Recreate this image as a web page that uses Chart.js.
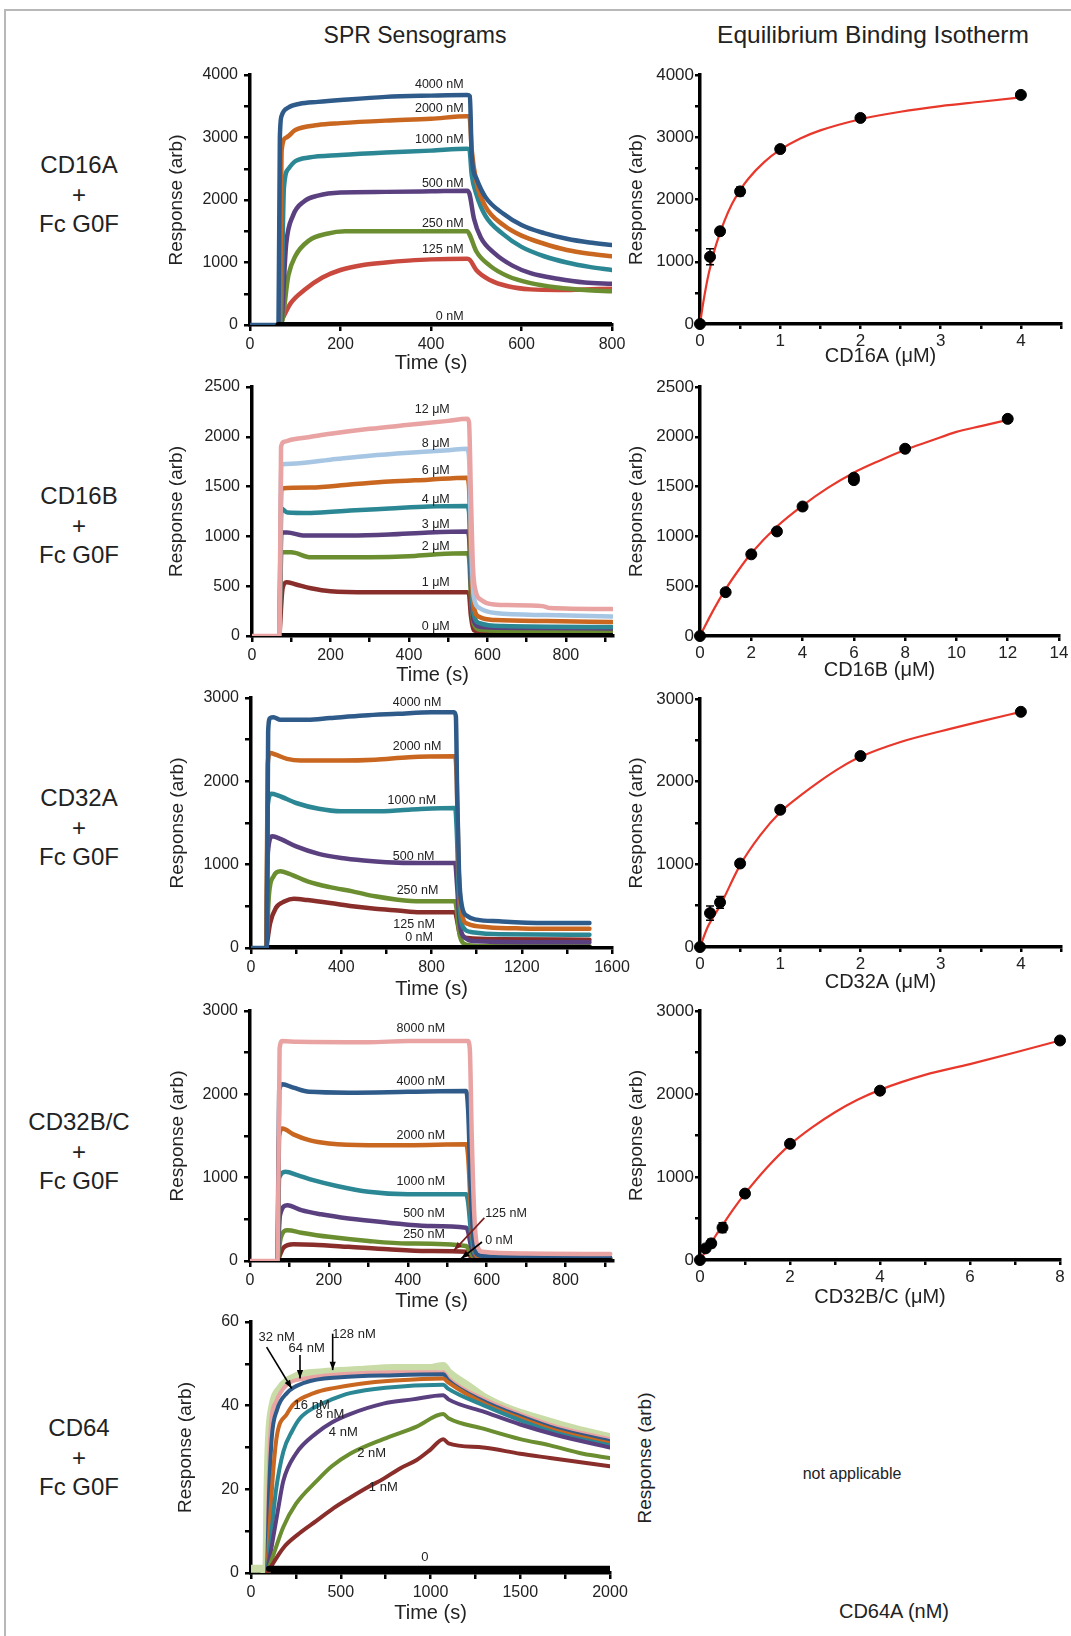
<!DOCTYPE html>
<html>
<head>
<meta charset="utf-8">
<title>SPR sensograms and binding isotherms</title>
<script src="https://cdn.jsdelivr.net/npm/chart.js@4.4.1/dist/chart.umd.min.js"></script>
<style>
  body { margin: 0; background: #fff; font-family: "Liberation Sans", Arial, sans-serif; color: #222; }
  #page { position: relative; width: 1071px; height: 1636px; overflow: hidden; }
  .frame { position: absolute; left: 4px; top: 9px; width: 1080px; height: 1640px;
           border-top: 2px solid #b8b8b8; border-left: 2px solid #b8b8b8; }
  .txt { position: absolute; transform: translate(-50%, -50%); white-space: nowrap; }
  .row { position: absolute; left: 0; width: 158px; text-align: center; font-size: 24px; line-height: 29.5px; }
  canvas { position: absolute; }
</style>
</head>
<body>
<div id="page">
  <div class="frame"></div>
  <div class="txt" style="left:415px;top:35px;font-size:23px">SPR Sensograms</div>
  <div class="txt" style="left:873px;top:35px;font-size:24.5px">Equilibrium Binding Isotherm</div>

  <div class="row" style="top:150px">CD16A<br>+<br>Fc G0F</div>
  <div class="row" style="top:481px">CD16B<br>+<br>Fc G0F</div>
  <div class="row" style="top:783px">CD32A<br>+<br>Fc G0F</div>
  <div class="row" style="top:1107px">CD32B/C<br>+<br>Fc G0F</div>
  <div class="row" style="top:1413px">CD64<br>+<br>Fc G0F</div>

  <div class="txt" style="left:645px;top:1458px;font-size:19px;transform:translate(-50%,-50%) rotate(-90deg)">Response (arb)</div>
  <div class="txt" style="left:852px;top:1474px;font-size:16px">not applicable</div>
  <div class="txt" style="left:894px;top:1611px;font-size:20px">CD64A (nM)</div>
</div>

<script>
/////////////////////////////
// Data | sensograms  [time (s), response]
/////////////////////////////

// CD16A
const cd16aConc = ['4000 nM', '2000 nM', '1000 nM', '500 nM', '250 nM', '125 nM', '0 nM'];
const cd16a4000 = [[0,0],[60,0],[63,0],[66,3000],[70,3350],[85,3480],[110,3540],[150,3570],[200,3600],[300,3650],[400,3670],[480,3680],[486,3660],[490,2700],[500,2350],[520,2050],[560,1780],[600,1600],[650,1470],[700,1380],[750,1320],[800,1280]];
const cd16a2000 = [[62,0],[66,0],[70,2800],[80,3000],[100,3120],[150,3200],[200,3230],[300,3270],[400,3300],[480,3340],[485,3340],[490,2800],[500,2300],[520,1900],[560,1600],[600,1430],[650,1300],[700,1200],[750,1140],[800,1100]];
const cd16a1000 = [[64,0],[68,0],[75,2200],[85,2500],[100,2620],[130,2680],[200,2720],[300,2760],[400,2790],[480,2820],[485,2800],[490,2400],[500,2100],[520,1750],[560,1450],[600,1250],[650,1100],[700,1000],[750,930],[800,880]];
const cd16a500 = [[64,0],[68,0],[80,1300],[95,1750],[120,1980],[150,2070],[200,2120],[300,2130],[400,2140],[480,2150],[485,2100],[495,1700],[510,1400],[540,1150],[580,950],[620,830],[680,740],[740,680],[800,660]];
const cd16a250 = [[64,0],[68,0],[85,800],[100,1100],[130,1350],[170,1460],[210,1500],[300,1500],[400,1500],[480,1500],[485,1450],[500,1180],[530,950],[570,780],[620,670],[680,600],[740,560],[800,540]];
const cd16a125 = [[66,0],[72,100],[90,350],[120,560],[160,760],[200,880],[250,960],[300,1000],[350,1030],[400,1050],[480,1060],[486,1040],[500,880],[530,720],[570,620],[620,570],[680,560],[740,570],[800,580]];
const cd16a0 = [[63,0],[800,0]];

// CD16B
const cd16bConc = ['12 μM', '8 μM', '6 μM', '4 μM', '3 μM', '2 μM', '1 μM', '0 μM'];
const cd16b12 = [[0,0],[66,0],[70,0],[74,1900],[82,1950],[100,1970],[150,2000],[200,2030],[300,2080],[400,2120],[500,2160],[548,2180],[553,2150],[558,1400],[563,700],[570,450],[585,360],[610,320],[650,310],[740,300],[760,280],[917,270]];
const cd16b8 = [[70,0],[75,1720],[100,1730],[200,1770],[300,1810],[400,1840],[500,1865],[548,1880],[553,1800],[558,1000],[565,400],[580,280],[620,230],[750,210],[917,195]];
const cd16b6 = [[70,0],[75,1480],[150,1490],[250,1520],[350,1550],[450,1570],[548,1590],[553,1500],[558,800],[565,300],[580,190],[620,160],[750,150],[917,140]];
const cd16b4 = [[70,0],[75,1280],[90,1240],[150,1235],[250,1260],[350,1280],[450,1300],[548,1305],[553,1250],[558,600],[565,220],[580,130],[640,100],[917,90]];
const cd16b3 = [[70,0],[75,1040],[90,1040],[130,1010],[250,1010],[350,1020],[450,1040],[548,1050],[553,1000],[558,500],[565,150],[585,90],[700,80],[917,75]];
const cd16b2 = [[70,0],[75,840],[100,840],[150,790],[300,790],[400,800],[470,820],[548,830],[553,790],[558,400],[565,120],[585,60],[700,50],[917,45]];
const cd16b1 = [[70,0],[78,480],[88,540],[110,520],[150,480],[200,450],[300,440],[548,440],[553,420],[558,200],[565,60],[600,30],[750,20],[917,15]];
const cd16b0 = [[72,0],[917,0]];

// CD32A
const cd32aConc = ['4000 nM', '2000 nM', '1000 nM', '500 nM', '250 nM', '125 nM', '0 nM'];
const cd32a4000 = [[0,0],[66,0],[70,0],[76,2600],[85,2760],[100,2770],[130,2740],[250,2740],[350,2760],[500,2790],[650,2810],[800,2830],[900,2830],[908,2780],[914,1800],[922,900],[935,500],[960,380],[1000,340],[1100,320],[1300,300],[1500,300]];
const cd32a2000 = [[68,0],[74,2200],[85,2340],[110,2320],[160,2270],[220,2250],[400,2250],[550,2260],[700,2290],[905,2300],[912,2000],[920,1000],[935,400],[960,290],[1050,250],[1200,235],[1500,230]];
const cd32a1000 = [[68,0],[74,1700],[90,1850],[120,1830],[200,1740],[300,1670],[400,1640],[550,1640],[700,1660],[905,1680],[912,1400],[922,600],[940,250],[980,190],[1100,165],[1500,160]];
const cd32a500 = [[68,0],[75,1150],[95,1340],[130,1310],[200,1220],[300,1130],[400,1080],[500,1050],[600,1030],[750,1020],[905,1020],[912,800],[925,300],[950,120],[1000,80],[1200,70],[1500,70]];
const cd32a250 = [[68,0],[80,650],[100,860],[130,920],[170,890],[250,800],[350,730],[450,680],[550,620],[650,580],[750,560],[905,560],[912,450],[925,150],[955,40],[1000,25],[1500,20]];
const cd32a125 = [[68,0],[85,300],[110,480],[150,560],[190,590],[250,575],[350,540],[450,500],[550,470],[650,450],[750,430],[905,430],[912,350],[925,180],[960,120],[1100,105],[1500,100]];
const cd32a0 = [[70,0],[1500,0]];

// CD32B/C
const cd32bcConc = ['8000 nM', '4000 nM', '2000 nM', '1000 nM', '500 nM', '250 nM', '125 nM', '0 nM'];
const cd32bc8000 = [[0,0],[66,0],[70,0],[75,2550],[82,2640],[120,2630],[300,2625],[400,2640],[552,2640],[557,2550],[562,1500],[568,600],[575,200],[590,110],[700,90],[850,85],[913,85]];
const cd32bc4000 = [[70,0],[74,2050],[82,2120],[110,2080],[150,2030],[250,2020],[400,2030],[548,2040],[553,1800],[560,800],[568,200],[580,70],[650,50],[913,40]];
const cd32bc2000 = [[70,0],[74,1500],[82,1590],[110,1520],[150,1450],[200,1410],[300,1390],[400,1390],[548,1400],[553,1250],[560,600],[568,150],[580,50],[913,30]];
const cd32bc1000 = [[70,0],[74,1000],[90,1070],[120,1030],[160,970],[220,900],[300,830],[400,800],[548,800],[553,700],[560,350],[568,100],[590,40],[913,25]];
const cd32bc500 = [[70,0],[76,550],[95,670],[130,610],[180,560],[250,510],[350,460],[450,420],[548,400],[553,350],[560,180],[570,60],[600,30],[913,20]];
const cd32bc250 = [[70,0],[78,280],[95,370],[130,340],[200,290],[300,240],[400,210],[548,180],[553,150],[562,70],[580,30],[913,15]];
const cd32bc125 = [[70,0],[85,160],[110,200],[160,195],[250,170],[350,140],[450,120],[548,110],[553,90],[562,40],[580,15],[913,10]];
const cd32bc0 = [[72,0],[913,0]];

// CD64
const cd64Conc = ['128 nM', '64 nM', '32 nM', '16 nM', '8 nM', '4 nM', '2 nM', '1 nM', '0'];
const cd64_128 = [[0,1],[60,1],[85,0],[92,20],[100,32],[120,40],[160,44],[250,47],[400,48],[600,48.5],[800,49],[1000,49],[1071,49.5],[1100,48],[1200,45],[1300,42],[1450,39],[1600,37],[1800,34.5],[2000,32.5]];
const cd64_64 = [[90,0],[97,20],[110,35],[140,41],[200,45],[300,46.5],[500,47.5],[800,48],[1071,48],[1100,46.5],[1300,41.5],[1500,38],[1700,35],[2000,32]];
const cd64_32 = [[90,0],[100,18],[115,32],[145,39],[200,43],[300,45.5],[500,46.8],[800,47.3],[1071,47.5],[1100,46],[1300,41],[1500,37.5],[1700,34.5],[2000,31.5]];
const cd64_16 = [[90,0],[105,12],[125,25],[145,33],[200,38],[240,40.5],[350,43],[460,44.2],[600,45.2],[800,46],[1071,46.5],[1100,45.5],[1300,40.5],[1500,37],[1700,34],[2000,31]];
const cd64_8 = [[90,0],[110,8],[140,20],[180,29],[230,34],[273,37],[350,39.5],[450,41.5],[552,43],[750,44.3],[1071,45],[1100,44],[1300,40],[1500,36.5],[1700,33.5],[2000,30.5]];
const cd64_4 = [[90,0],[110,5],[150,15],[180,22],[250,28.5],[366,33.5],[450,36],[552,38],[737,40.5],[900,41.5],[1071,42.5],[1100,41.5],[1300,38.5],[1500,35.5],[1700,33],[2000,30]];
const cd64_2 = [[90,0],[130,5],[180,11],[250,16.5],[366,22],[450,25.5],[552,28.5],[737,32],[923,35],[1071,38],[1100,37],[1294,34.5],[1500,32],[1666,30.5],[1850,28.5],[2000,27.5]];
const cd64_1 = [[90,0],[180,6],[270,9.5],[366,12.5],[460,15.5],[552,18],[650,20.5],[737,22.5],[830,25],[923,27],[1000,29.5],[1071,32],[1100,31],[1294,30],[1500,28.5],[1666,27.5],[2000,25.5]];
const cd64_0 = [[100,1],[2000,1]];

/////////////////////////////
// Data | isotherms
/////////////////////////////

const cd16aUM   = [0, 0.125, 0.25, 0.5, 1, 2, 4];
const cd16aResp = [0, 1080, 1490, 2130, 2810, 3310, 3680];
const cd16aErr  = [0, 130, 40, 70, 40, 30, 40];
const cd16aFit  = [[0,0],[0.03,260],[0.06,490],[0.1,760],[0.15,1030],[0.2,1270],[0.3,1640],[0.4,1930],[0.5,2150],[0.6,2330],[0.8,2600],[1,2800],[1.25,2980],[1.5,3110],[2,3290],[2.5,3410],[3,3500],[3.5,3570],[4,3640]];

const cd16bUM   = [0, 1, 2, 3, 4, 6, 6, 8, 12];
const cd16bResp = [0, 440, 820, 1050, 1300, 1590, 1565, 1880, 2180];
const cd16bErr  = [0, 20, 20, 20, 20, 0, 0, 20, 20];
const cd16bFit  = [[0,0],[0.5,250],[1,470],[1.5,660],[2,830],[3,1100],[4,1310],[5,1490],[6,1640],[7,1760],[8,1870],[9,1960],[10,2050],[11,2110],[12,2170]];

const cd32aUM   = [0, 0.125, 0.25, 0.5, 1, 2, 4];
const cd32aResp = [0, 410, 540, 1010, 1660, 2310, 2845];
const cd32aErr  = [0, 85, 70, 40, 40, 30, 30];
const cd32aFit  = [[0,0],[0.1,250],[0.25,500],[0.5,990],[0.75,1350],[1,1630],[1.25,1830],[1.5,2010],[1.75,2170],[2,2300],[2.5,2480],[3,2610],[3.5,2730],[4,2845]];

const cd32bcUM   = [0, 0.125, 0.25, 0.5, 1, 2, 4, 8];
const cd32bcResp = [0, 140, 200, 390, 800, 1400, 2040, 2645];
const cd32bcErr  = [0, 30, 50, 60, 20, 40, 20, 20];
const cd32bcFit  = [[0,0],[0.25,210],[0.5,420],[0.75,620],[1,800],[1.5,1120],[2,1390],[2.5,1600],[3,1780],[3.5,1930],[4,2050],[5,2230],[6,2360],[7,2500],[8,2645]];

/////////////////////////////
// Styles
/////////////////////////////

const BLUE = '#2f5b8a', ORANGE = '#c9661f', TEAL = '#2c8794', PURPLE = '#5b4080',
      GREEN = '#6b8e30', RED = '#c9493f', DKRED = '#8a2e2b', PINK = '#e9a3a3',
      LTBLUE = '#a6c6e4', LTGREEN = '#c9dca7', BLACK = '#000';
const FONT = '"Liberation Sans", Arial, sans-serif';
const PAD_T = 14, PAD_R = 26;
Chart.defaults.font.family = FONT;
Chart.defaults.color = '#222';

// text labels, arrows and error bars on top of the data
const extras = {
  id: 'extras',
  afterDatasetsDraw(chart, args, opts) {
    if (!opts) return;
    const { ctx } = chart;
    const x = chart.scales.x, y = chart.scales.y;
    ctx.save();
    (opts.errors || []).forEach(e => {
      e.x.forEach((xv, i) => {
        if (!e.err[i]) return;
        const px = x.getPixelForValue(xv);
        const top = y.getPixelForValue(e.y[i] + e.err[i]);
        const bot = y.getPixelForValue(e.y[i] - e.err[i]);
        ctx.strokeStyle = '#000'; ctx.lineWidth = 1.5;
        ctx.beginPath();
        ctx.moveTo(px, top); ctx.lineTo(px, bot);
        ctx.moveTo(px - 4, top); ctx.lineTo(px + 4, top);
        ctx.moveTo(px - 4, bot); ctx.lineTo(px + 4, bot);
        ctx.stroke();
      });
    });
    (opts.arrows || []).forEach(a => {
      const x1 = x.getPixelForValue(a[0]), y1 = y.getPixelForValue(a[1]);
      const x2 = x.getPixelForValue(a[2]), y2 = y.getPixelForValue(a[3]);
      const col = a[4] || '#000';
      ctx.strokeStyle = col; ctx.fillStyle = col; ctx.lineWidth = 1.6;
      ctx.beginPath(); ctx.moveTo(x1, y1); ctx.lineTo(x2, y2); ctx.stroke();
      const ang = Math.atan2(y2 - y1, x2 - x1), h = 9;
      ctx.beginPath(); ctx.moveTo(x2, y2);
      ctx.lineTo(x2 - h * Math.cos(ang - 0.35), y2 - h * Math.sin(ang - 0.35));
      ctx.lineTo(x2 - h * Math.cos(ang + 0.35), y2 - h * Math.sin(ang + 0.35));
      ctx.closePath(); ctx.fill();
    });
    ctx.fillStyle = '#222';
    ctx.font = (opts.fontSize || 12.5) + 'px ' + FONT;
    ctx.textBaseline = 'middle';
    (opts.texts || []).forEach(t => {
      ctx.textAlign = t[3] || 'center';
      ctx.fillText(t[0], x.getPixelForValue(t[1]), y.getPixelForValue(t[2]));
    });
    ctx.restore();
  }
};
Chart.register(extras);

function tickList(max, step) {
  const out = [];
  for (let i = 0; i * step <= max + 1e-9; i++) out.push({ value: +(i * step).toFixed(4) });
  return out;
}

function axis(o, horizontal) {
  return {
    type: 'linear', min: 0, max: o.max,
    afterBuildTicks: s => { s.ticks = tickList(o.max, o.step); },
    afterFit: s => {
      if (horizontal) { s.height = o.box; s.paddingLeft = 0; s.paddingRight = 0; }
      else { s.width = o.box; s.paddingTop = 0; s.paddingBottom = 0; }
    },
    ticks: {
      autoSkip: false, maxRotation: 0, padding: o.pad, color: '#222',
      font: { size: o.font },
      callback: v => (Math.abs(v / o.every - Math.round(v / o.every)) < 1e-6 ? String(v) : '')
    },
    grid: { display: true, drawOnChartArea: false, drawTicks: true, tickLength: o.tick,
            tickWidth: 2.5, tickColor: '#000', color: '#000', lineWidth: 2.5 },
    border: { display: true, width: 3.5, color: '#000' },
    title: { display: true, text: o.title, color: '#222', padding: 0,
             font: { size: horizontal ? 20 : 19, lineHeight: 1 } }
  };
}

function makeCanvas(rect, yw, xh) {
  const [L, T, R, B] = rect;
  const c = document.createElement('canvas');
  const w = R - L + yw + PAD_R, h = B - T + PAD_T + xh;
  c.width = w; c.height = h;
  c.style.left = (L - yw) + 'px'; c.style.top = (T - PAD_T) + 'px';
  c.style.width = w + 'px'; c.style.height = h + 'px';
  document.getElementById('page').appendChild(c);
  return c;
}

function pts(arr) { return arr.map(p => ({ x: p[0], y: p[1] })); }

function drawPanel(p, datasets, extraOpts) {
  const c = makeCanvas(p.rect, p.yw, p.xh);
  new Chart(c, {
    type: 'scatter',
    data: { datasets },
    options: {
      responsive: false, animation: false, devicePixelRatio: 1,
      layout: { padding: { top: PAD_T, right: PAD_R, left: 0, bottom: 0 } },
      plugins: { legend: { display: false }, tooltip: { enabled: false }, extras: extraOpts },
      scales: {
        x: axis(Object.assign({ box: p.xh, title: p.xTitle }, p.x), true),
        y: axis(Object.assign({ box: p.yw, title: 'Response (arb)' }, p.y), false)
      }
    }
  });
}

function sensoLine(arr, color, width) {
  return { data: pts(arr), showLine: true, borderColor: color, backgroundColor: color,
           borderWidth: width || 4.5, pointRadius: 0, cubicInterpolationMode: 'monotone',
           borderCapStyle: 'round', borderJoinStyle: 'round' };
}

/////////////////////////////
// Panels | SPR sensograms
/////////////////////////////

const sx = (max, step, every) => ({ max, step, every, font: 16, tick: 6, pad: 4 });
const sy = (max, step, every) => ({ max, step, every, font: 16, tick: 6, pad: 6 });

drawPanel(
  { rect: [250, 75, 612, 325], yw: 83, xh: 48, xTitle: 'Time (s)', x: sx(800, 200, 200), y: sy(4000, 500, 1000) },
  [
    sensoLine(cd16a0, BLACK, 6),
    sensoLine(cd16a4000, BLUE), sensoLine(cd16a2000, ORANGE), sensoLine(cd16a1000, TEAL),
    sensoLine(cd16a500, PURPLE), sensoLine(cd16a250, GREEN), sensoLine(cd16a125, RED)
  ],
  { texts: [
      [cd16aConc[0], 472, 3850, 'right'], [cd16aConc[1], 472, 3467, 'right'], [cd16aConc[2], 472, 2970, 'right'],
      [cd16aConc[3], 472, 2267, 'right'], [cd16aConc[4], 472, 1627, 'right'], [cd16aConc[5], 472, 1200, 'right'],
      [cd16aConc[6], 472, 133, 'right'] ] }
);

drawPanel(
  { rect: [252, 387, 613, 636], yw: 85, xh: 49, xTitle: 'Time (s)', x: sx(920, 100, 200), y: sy(2500, 500, 500) },
  [
    sensoLine(cd16b12, PINK),
    sensoLine(cd16b0, BLACK, 6),
    sensoLine(cd16b8, LTBLUE), sensoLine(cd16b6, ORANGE), sensoLine(cd16b4, TEAL),
    sensoLine(cd16b3, PURPLE), sensoLine(cd16b2, GREEN), sensoLine(cd16b1, DKRED)
  ],
  { texts: [
      [cd16bConc[0], 504, 2273, 'right'], [cd16bConc[1], 504, 1931, 'right'], [cd16bConc[2], 504, 1657, 'right'],
      [cd16bConc[3], 504, 1369, 'right'], [cd16bConc[4], 504, 1118, 'right'], [cd16bConc[5], 504, 894, 'right'],
      [cd16bConc[6], 504, 532, 'right'], [cd16bConc[7], 504, 97, 'right'] ] }
);

drawPanel(
  { rect: [251, 698, 612, 948], yw: 83, xh: 51, xTitle: 'Time (s)', x: sx(1600, 200, 400), y: sy(3000, 500, 1000) },
  [
    sensoLine(cd32a4000, BLUE),
    sensoLine(cd32a0, BLACK, 6),
    sensoLine(cd32a2000, ORANGE), sensoLine(cd32a1000, TEAL), sensoLine(cd32a500, PURPLE),
    sensoLine(cd32a250, GREEN), sensoLine(cd32a125, DKRED)
  ],
  { texts: [
      [cd32aConc[0], 736, 2940], [cd32aConc[1], 736, 2420], [cd32aConc[2], 713, 1772],
      [cd32aConc[3], 721, 1100], [cd32aConc[4], 738, 692], [cd32aConc[5], 723, 280],
      [cd32aConc[6], 745, 128] ] }
);

drawPanel(
  { rect: [250, 1011, 613, 1261], yw: 82, xh: 50, xTitle: 'Time (s)', x: sx(920, 100, 200), y: sy(3000, 500, 1000) },
  [
    sensoLine(cd32bc8000, PINK),
    sensoLine(cd32bc0, BLACK, 6),
    sensoLine(cd32bc4000, BLUE), sensoLine(cd32bc2000, ORANGE), sensoLine(cd32bc1000, TEAL),
    sensoLine(cd32bc500, PURPLE), sensoLine(cd32bc250, GREEN), sensoLine(cd32bc125, DKRED)
  ],
  { texts: [
      [cd32bcConc[0], 433, 2791], [cd32bcConc[1], 433, 2159], [cd32bcConc[2], 433, 1502],
      [cd32bcConc[3], 433, 957], [cd32bcConc[4], 441, 569], [cd32bcConc[5], 441, 320],
      [cd32bcConc[6], 596, 569, 'left'], [cd32bcConc[7], 596, 240, 'left'] ],
    arrows: [[594, 517, 517, 128, '#7a1f1f'], [588, 228, 535, 28, '#000']] }
);

drawPanel(
  { rect: [251, 1322, 610, 1573], yw: 75, xh: 50, xTitle: 'Time (s)', x: sx(2000, 250, 500), y: sy(60, 10, 20) },
  [
    sensoLine(cd64_0, BLACK, 6),
    sensoLine(cd64_1, DKRED, 4), sensoLine(cd64_2, GREEN, 4), sensoLine(cd64_4, PURPLE, 4),
    sensoLine(cd64_8, TEAL, 4), sensoLine(cd64_16, ORANGE, 4), sensoLine(cd64_32, BLUE, 4),
    sensoLine(cd64_64, PINK, 4), sensoLine(cd64_128, LTGREEN, 8)
  ],
  { fontSize: 13,
    texts: [
      [cd64Conc[2], 143, 56.4], [cd64Conc[1], 310, 53.7], [cd64Conc[0], 574, 57.1],
      [cd64Conc[3], 338, 40.1], [cd64Conc[4], 440, 37.8], [cd64Conc[5], 514, 33.5],
      [cd64Conc[6], 672, 28.5], [cd64Conc[7], 737, 20.5], [cd64Conc[8], 969, 3.8] ],
    arrows: [[87, 54, 227, 44.1], [273, 52.1, 273, 46.5], [455, 57.2, 455, 48.5]] }
);

/////////////////////////////
// Panels | isotherms
/////////////////////////////

const ix = (max, step, every) => ({ max, step, every, font: 17, tick: 5, pad: 2 });
const iy = (max, step, every) => ({ max, step, every, font: 17, tick: 5, pad: 1 });

function isoPanel(p, conc, resp, err, fit) {
  drawPanel(p, [
    { data: conc.map((v, i) => ({ x: v, y: resp[i] })), showLine: false, pointRadius: 5.5,
      pointBackgroundColor: '#000', pointBorderColor: '#000', clip: false },
    { data: pts(fit), showLine: true, borderColor: '#e8372b', borderWidth: 2.2, pointRadius: 0,
      cubicInterpolationMode: 'monotone' }
  ], { errors: [{ x: conc, y: resp, err }] });
}

isoPanel({ rect: [700, 75, 1061, 324], yw: 73, xh: 42, xTitle: 'CD16A (μM)', x: ix(4.5, 0.5, 1), y: iy(4000, 500, 1000) },
  cd16aUM, cd16aResp, cd16aErr, cd16aFit);
isoPanel({ rect: [700, 387, 1059, 636], yw: 73, xh: 44, xTitle: 'CD16B (μM)', x: ix(14, 2, 2), y: iy(2500, 500, 500) },
  cd16bUM, cd16bResp, cd16bErr, cd16bFit);
isoPanel({ rect: [700, 699, 1061, 947], yw: 73, xh: 45, xTitle: 'CD32A (μM)', x: ix(4.5, 0.5, 1), y: iy(3000, 500, 1000) },
  cd32aUM, cd32aResp, cd32aErr, cd32aFit);
isoPanel({ rect: [700, 1011, 1060, 1260], yw: 73, xh: 47, xTitle: 'CD32B/C (μM)', x: ix(8, 1, 2), y: iy(3000, 500, 1000) },
  cd32bcUM, cd32bcResp, cd32bcErr, cd32bcFit);
</script>
</body>
</html>
